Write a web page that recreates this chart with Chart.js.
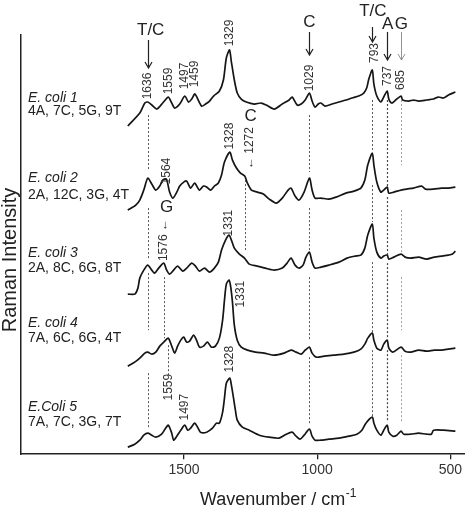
<!DOCTYPE html>
<html>
<head>
<meta charset="utf-8">
<script src="https://cdn.jsdelivr.net/npm/chart.js@4.4.1/dist/chart.umd.min.js"></script>
<style>
  html, body { margin: 0; padding: 0; background: #fff; }
  #wrap { width: 465px; height: 513px; }
</style>
</head>
<body>
<div id="wrap"><canvas id="raman" width="465" height="513"></canvas></div>
<script>
// spectra: wavenumber (cm-1) and stacked intensity (arb. units, offsets included)
const ecoli1Wn = [1711, 1666, 1647, 1636, 1621, 1602, 1580, 1559, 1546, 1535, 1516, 1497, 1483, 1471, 1459, 1434, 1419, 1404, 1389, 1367, 1352, 1341, 1329, 1322, 1311, 1300, 1285, 1266, 1236, 1210, 1191, 1161, 1131, 1105, 1094, 1075, 1060, 1045, 1029, 1019, 1008, 996, 986, 971, 944, 918, 892, 869, 844, 825, 814, 806, 793, 787, 776, 761, 750, 737, 731, 720, 705, 685, 679, 657, 638, 619, 589, 563, 545, 526, 507, 481];
const ecoli1Int = [328, 341, 351, 352, 349, 345, 351, 357, 351, 346, 350, 358, 352, 355, 360, 348, 350, 353, 358, 363, 374, 396, 404, 392, 374, 361, 355, 352, 350, 351, 349, 345, 350, 354, 357, 349, 350, 354, 361, 353, 347, 350, 351, 348, 350, 352, 354, 356, 358, 361, 366, 375, 384, 370, 358, 352, 357, 363, 355, 351, 354, 358, 354, 353, 354, 353, 354, 355, 357, 356, 359, 362];

const ecoli2Wn = [1711, 1681, 1666, 1651, 1636, 1621, 1606, 1591, 1580, 1566, 1554, 1542, 1527, 1516, 1501, 1490, 1475, 1460, 1442, 1427, 1415, 1400, 1386, 1371, 1359, 1348, 1328, 1318, 1303, 1288, 1272, 1262, 1247, 1225, 1202, 1180, 1154, 1131, 1109, 1098, 1083, 1068, 1049, 1029, 1019, 1008, 986, 956, 929, 892, 862, 836, 821, 810, 793, 787, 776, 761, 750, 737, 731, 712, 685, 664, 638, 608, 593, 563, 533, 507, 481];
const ecoli2Int = [244, 249, 254, 264, 276, 270, 264, 268, 274, 275, 262, 256, 262, 268, 272, 273, 266, 271, 264, 268, 267, 264, 268, 271, 279, 292, 302, 294, 286, 281, 278, 271, 264, 262, 260, 255, 251, 256, 264, 266, 258, 254, 262, 276, 264, 256, 256, 255, 257, 261, 263, 266, 274, 289, 301, 289, 272, 262, 264, 267, 261, 262, 264, 265, 266, 268, 265, 265, 266, 266, 267];

const ecoli3Wn = [1711, 1685, 1673, 1666, 1651, 1636, 1621, 1610, 1595, 1576, 1565, 1554, 1539, 1524, 1505, 1490, 1471, 1457, 1442, 1423, 1404, 1386, 1371, 1359, 1344, 1331, 1322, 1311, 1292, 1273, 1255, 1225, 1195, 1161, 1131, 1113, 1098, 1083, 1068, 1053, 1042, 1029, 1019, 1008, 986, 956, 918, 888, 858, 836, 821, 810, 793, 787, 776, 761, 750, 737, 731, 712, 685, 670, 649, 619, 589, 560, 533, 507, 492, 481];
const ecoli3Int = [160, 160, 166, 176, 184, 189, 184, 181, 186, 191, 184, 180, 184, 188, 183, 186, 191, 188, 183, 186, 182, 186, 192, 204, 214, 219, 214, 206, 200, 196, 190, 188, 186, 184, 186, 191, 196, 189, 186, 189, 197, 202, 192, 186, 187, 189, 192, 196, 198, 199, 206, 219, 230, 216, 202, 196, 198, 199, 195, 197, 200, 197, 196, 197, 195, 197, 198, 199, 200, 203];

const ecoli4Wn = [1711, 1685, 1666, 1647, 1636, 1621, 1606, 1591, 1576, 1559, 1546, 1535, 1524, 1512, 1501, 1490, 1479, 1464, 1453, 1442, 1427, 1412, 1397, 1382, 1367, 1355, 1348, 1341, 1331, 1325, 1318, 1311, 1300, 1285, 1262, 1232, 1199, 1161, 1124, 1098, 1079, 1060, 1045, 1029, 1019, 1004, 974, 937, 900, 862, 836, 821, 810, 793, 787, 776, 761, 750, 737, 731, 716, 685, 670, 649, 619, 589, 560, 533, 507, 481];
const ecoli4Int = [88, 92, 96, 101, 102, 100, 102, 108, 112, 116, 108, 101, 108, 114, 117, 112, 113, 119, 114, 107, 108, 112, 107, 108, 116, 134, 154, 170, 174, 168, 152, 129, 114, 107, 104, 102, 101, 99, 101, 104, 102, 100, 104, 107, 101, 97, 98, 99, 100, 102, 105, 110, 116, 121, 114, 106, 104, 110, 114, 106, 102, 107, 103, 102, 104, 103, 104, 104, 105, 106];

const ecoli5Wn = [1711, 1685, 1666, 1651, 1636, 1621, 1606, 1584, 1569, 1559, 1546, 1539, 1527, 1512, 1497, 1486, 1475, 1460, 1449, 1438, 1415, 1393, 1378, 1367, 1355, 1348, 1341, 1328, 1322, 1314, 1307, 1300, 1281, 1255, 1217, 1180, 1143, 1116, 1094, 1079, 1064, 1049, 1029, 1019, 1008, 986, 956, 918, 881, 851, 832, 817, 793, 787, 776, 761, 750, 737, 731, 716, 701, 685, 675, 649, 619, 589, 571, 563, 526, 481];
const ecoli5Int = [7, 10, 14, 19, 21, 19, 17, 20, 26, 29, 21, 14, 18, 24, 29, 24, 26, 31, 27, 22, 22, 26, 31, 31, 42, 56, 71, 76, 69, 56, 44, 34, 27, 24, 19, 17, 16, 20, 22, 18, 15, 19, 25, 18, 14, 14, 15, 16, 18, 20, 24, 31, 37, 31, 24, 19, 24, 29, 22, 18, 19, 23, 20, 20, 21, 20, 20, 24, 24, 23];

const xTicks = [1500, 1000, 500];
const sampleNames = ['E. coli 1', 'E. coli 2', 'E. coli 3', 'E. coli 4', 'E.Coli 5'];
const sampleBases = ['4A, 7C, 5G, 9T', '2A, 12C, 3G, 4T', '2A, 8C, 6G, 8T', '7A, 6C, 6G, 4T', '7A, 7C, 3G, 7T'];
const sampleNameY = [356, 276, 201, 131, 47];
const sampleBaseY = [343, 259, 186, 116, 32];

// rotated peak labels: text, wavenumber, intensity
const peakLabels = [
  ['1636', 1636, 368], ['1559', 1559, 373], ['1497', 1497, 378], ['1459', 1459, 380],
  ['1329', 1329, 421], ['1029', 1029, 376], ['793', 785, 401], ['737', 735, 378], ['685', 685, 374],
  ['1564', 1564, 283], ['1328', 1328, 318], ['\u2190 1272', 1255, 306],
  ['1576 \u2190', 1576, 214], ['1331', 1331, 231],
  ['1331', 1287, 160],
  ['1328', 1328, 95], ['1559', 1559, 67], ['1497', 1497, 47]
];
// upright band assignments
const bandLetters = [
  ['T/C', 1625, 424], ['C', 1029, 432], ['T/C', 791, 443], ['A', 735, 430], ['G', 684, 430],
  ['C', 1250, 338], ['G', 1565, 247]
];
// arrows under the letters: wavenumber, tail, head
const bandArrows = [[1636, 414, 386], [1029, 422, 399], [793, 427, 412], [737, 422, 394], [685, 422, 394]];
// dotted guide lines: wavenumber, list of [top, bottom] segments
const guides = [
  [1636, [[339, 284], [246, 196], [181, 124], [81, 26]]],
  [1576, [[177, 116]]],
  [1559, [[109, 79]]],
  [1272, [[274, 204]]],
  [1029, [[339, 282], [246, 204], [177, 114], [97, 29]]],
  [793, [[354, 304], [269, 232], [192, 121], [104, 37]]],
  [737, [[354, 266], [257, 199], [191, 116], [104, 34]]],
  [685, [[354, 289], [244, 202], [177, 124], [99, 32]]]
];

const FONT = "'Liberation Sans', Arial, sans-serif";

function toPoints(wn, vals) {
  return wn.map((w, i) => ({ x: w, y: vals[i] }));
}

const spectra = [
  toPoints(ecoli1Wn, ecoli1Int),
  toPoints(ecoli2Wn, ecoli2Int),
  toPoints(ecoli3Wn, ecoli3Int),
  toPoints(ecoli4Wn, ecoli4Int),
  toPoints(ecoli5Wn, ecoli5Int)
];

const annotations = {
  id: 'annotations',
  afterDraw(chart) {
    const ctx = chart.ctx;
    const xs = chart.scales.x, ys = chart.scales.y;
    const px = w => xs.getPixelForValue(w);
    const py = v => ys.getPixelForValue(v);
    ctx.save();

    // guides
    ctx.setLineDash([2, 2]);
    guides.forEach(([w, segs]) => {
      ctx.strokeStyle = w === 685 ? '#999' : '#444';
      ctx.lineWidth = w === 737 ? 1.2 : 0.9;
      segs.forEach(([a, b]) => {
        ctx.beginPath();
        ctx.moveTo(Math.round(px(w)) + 0.5, py(a));
        ctx.lineTo(Math.round(px(w)) + 0.5, py(b));
        ctx.stroke();
      });
    });
    ctx.setLineDash([]);

    // arrows
    bandArrows.forEach(([w, a, b]) => {
      const x = Math.round(px(w)) + 0.5, y1 = py(a), y2 = py(b);
      ctx.strokeStyle = w === 685 ? '#777' : '#222';
      ctx.lineWidth = w === 685 ? 0.8 : 1.2;
      ctx.beginPath();
      ctx.moveTo(x, y1);
      ctx.lineTo(x, y2);
      ctx.moveTo(x - 3.5, y2 - 6);
      ctx.lineTo(x, y2);
      ctx.lineTo(x + 3.5, y2 - 6);
      ctx.stroke();
    });

    ctx.fillStyle = '#222';
    ctx.textAlign = 'center';
    ctx.textBaseline = 'middle';
    ctx.font = '17px ' + FONT;
    bandLetters.forEach(([t, w, v]) => ctx.fillText(t, px(w), py(v)));

    ctx.font = '12px ' + FONT;
    ctx.fillStyle = '#333';
    peakLabels.forEach(([t, w, v]) => {
      ctx.save();
      ctx.translate(px(w), py(v));
      ctx.rotate(-Math.PI / 2);
      ctx.fillText(t, 0, 0);
      ctx.restore();
    });

    // sample labels
    ctx.textAlign = 'left';
    ctx.fillStyle = '#222';
    const left = chart.chartArea.left + 7;
    sampleNames.forEach((n, i) => {
      ctx.font = 'italic 14px ' + FONT;
      ctx.fillText(n, left, py(sampleNameY[i]));
      ctx.font = '14px ' + FONT;
      ctx.fillText(sampleBases[i], left, py(sampleBaseY[i]));
    });

    // axis titles
    ctx.save();
    ctx.translate(10, 260);
    ctx.rotate(-Math.PI / 2);
    ctx.textAlign = 'center';
    ctx.font = '20px ' + FONT;
    ctx.fillText('Raman Intensity', 0, 0);
    ctx.restore();

    ctx.font = '18px ' + FONT;
    const main = 'Wavenumber / cm';
    const mw = ctx.measureText(main).width;
    ctx.font = '12px ' + FONT;
    const sup = '-1';
    const sw = ctx.measureText(sup).width;
    const x0 = 278 - (mw + sw) / 2;
    ctx.textAlign = 'left';
    ctx.font = '18px ' + FONT;
    ctx.fillText(main, x0, 500);
    ctx.font = '12px ' + FONT;
    ctx.fillText(sup, x0 + mw + 0.5, 494);
    ctx.restore();
  }
};

new Chart(document.getElementById('raman'), {
  type: 'line',
  data: {
    datasets: spectra.map((pts, i) => ({
      label: sampleNames[i],
      data: pts,
      borderColor: '#151515',
      borderWidth: 1.7,
      pointRadius: 0,
      tension: 0.25,
      fill: false
    }))
  },
  options: {
    responsive: false,
    animation: false,
    layout: { padding: { top: 35, left: 21, right: 0, bottom: 31 } },
    plugins: { legend: { display: false }, tooltip: { enabled: false } },
    scales: {
      x: {
        type: 'linear',
        reverse: true,
        min: 448,
        max: 2112,
        afterBuildTicks: s => { s.ticks = xTicks.map(v => ({ value: v })); },
        ticks: { color: '#333', font: { size: 14, family: FONT }, padding: 3, maxRotation: 0, callback: v => String(v) },
        grid: { display: true, drawOnChartArea: false, drawTicks: true, tickLength: 5, color: '#222', lineWidth: 1.3 },
        border: { display: true, color: '#222', width: 1.5 }
      },
      y: {
        min: 0,
        max: 419,
        ticks: { display: false },
        grid: { display: false, drawTicks: false },
        border: { display: true, color: '#222', width: 1.5 }
      }
    }
  },
  plugins: [annotations]
});
</script>
</body>
</html>
